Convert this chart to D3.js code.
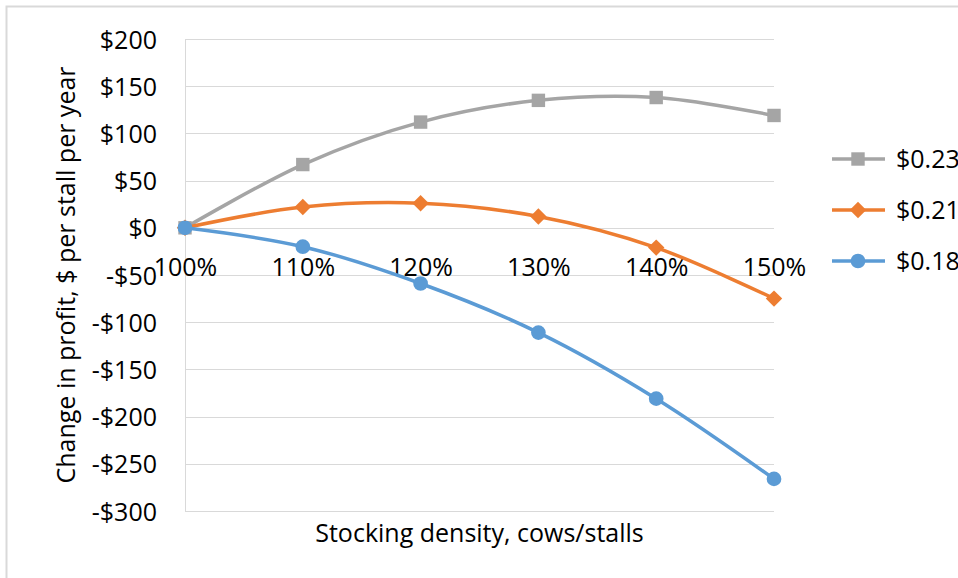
<!DOCTYPE html>
<html>
<head>
<meta charset="utf-8">
<script src="https://cdnjs.cloudflare.com/ajax/libs/d3/7.8.5/d3.min.js"></script>
<style>
body { margin: 0; background: #fff; overflow: hidden; }
svg text { font-family: "Open Sans", "Liberation Sans", sans-serif; fill: #000; }
</style>
</head>
<body>
<svg id="chart" width="958" height="578"></svg>
<script>
// data
var categories = ["100%", "110%", "120%", "130%", "140%", "150%"];
var seriesNames = ["$0.23", "$0.21", "$0.18"];
var gray23 = [0, 67, 112, 135, 138, 119];
var orange21 = [0, 22, 26, 12, -21, -75];
var blue18 = [0, -20, -59, -111, -181, -266];
var yTicks = [200, 150, 100, 50, 0, -50, -100, -150, -200, -250, -300];

// rotate = 45 turns the square into Excel's diamond
var series = [
  {name: seriesNames[0], values: gray23, color: "#A5A5A5", shape: d3.symbolSquare, size: 180, rotate: 0},
  {name: seriesNames[1], values: orange21, color: "#ED7D31", shape: d3.symbolSquare, size: 135, rotate: 45},
  {name: seriesNames[2], values: blue18, color: "#5B9BD5", shape: d3.symbolCircle, size: 170, rotate: 0}
];

var svg = d3.select("#chart");

// outer chart border
svg.append("rect")
  .attr("x", 6.5).attr("y", 6.5)
  .attr("width", 1000).attr("height", 1000)
  .attr("fill", "none")
  .attr("stroke", "#d9d9d9")
  .attr("stroke-width", 2);

var plotL = 185, plotR = 774, plotT = 39, plotB = 511;
var fontSize = "25px";

var x = d3.scalePoint()
  .domain(categories)
  .range([plotL, plotR]);

var y = d3.scaleLinear()
  .domain([-300, 200])
  .range([plotB, plotT]);

var fmt = function(v) { return v < 0 ? "-$" + (-v) : "$" + v; };

// gridlines
svg.append("g")
  .selectAll("line")
  .data(yTicks)
  .enter().append("line")
    .attr("x1", plotL).attr("x2", plotR)
    .attr("y1", function(d) { return Math.round(y(d)) + 0.5; })
    .attr("y2", function(d) { return Math.round(y(d)) + 0.5; })
    .attr("stroke", "#d9d9d9")
    .attr("stroke-width", 1);

// vertical axis line
svg.append("line")
  .attr("x1", plotL + 0.5).attr("x2", plotL + 0.5)
  .attr("y1", plotT).attr("y2", plotB)
  .attr("stroke", "#d9d9d9");

// y tick labels
var yAxis = d3.axisLeft(y).tickValues(yTicks).tickFormat(fmt).tickSize(0).tickPadding(28);
var gy = svg.append("g")
  .attr("transform", "translate(" + plotL + ",0)")
  .call(yAxis);
gy.select(".domain").remove();
gy.selectAll("text")
  .style("font-size", fontSize)
  .attr("dy", "0.36em");

// x tick labels sit under the zero line
var xAxis = d3.axisBottom(x).tickSize(0);
var gx = svg.append("g")
  .attr("transform", "translate(0," + y(0) + ")")
  .call(xAxis);
gx.select(".domain").remove();
gx.selectAll("text")
  .style("font-size", fontSize)
  .attr("y", 48)
  .attr("dy", null);

// lines
var line = d3.line()
  .x(function(d, i) { return x(categories[i]); })
  .y(function(d) { return y(d); })
  .curve(d3.curveCatmullRom.alpha(0.5));

series.forEach(function(s) {
  svg.append("path")
    .datum(s.values)
    .attr("d", line)
    .attr("fill", "none")
    .attr("stroke", s.color)
    .attr("stroke-width", 3.5)
    .attr("stroke-linecap", "round");

  svg.append("g")
    .selectAll("path")
    .data(s.values)
    .enter().append("path")
      .attr("transform", function(d, i) {
        return "translate(" + x(categories[i]) + "," + y(d) + ") rotate(" + s.rotate + ")";
      })
      .attr("d", d3.symbol().type(s.shape).size(s.size))
      .attr("fill", s.color);
});

// axis titles
svg.append("text")
  .attr("transform", "translate(75," + ((plotT + plotB) / 2) + ") rotate(-90)")
  .attr("text-anchor", "middle")
  .style("font-size", fontSize)
  .text("Change in profit, $ per stall per year");

svg.append("text")
  .attr("x", (plotL + plotR) / 2)
  .attr("y", 542)
  .attr("text-anchor", "middle")
  .style("font-size", fontSize)
  .text("Stocking density, cows/stalls");

// legend (cut by the right edge, as in the source image)
var legend = svg.append("g");
series.forEach(function(s, i) {
  var ly = 159 + i * 51;
  legend.append("line")
    .attr("x1", 832).attr("x2", 885)
    .attr("y1", ly).attr("y2", ly)
    .attr("stroke", s.color).attr("stroke-width", 3.5);
  legend.append("path")
    .attr("transform", "translate(858," + ly + ") rotate(" + s.rotate + ")")
    .attr("d", d3.symbol().type(s.shape).size(s.size))
    .attr("fill", s.color);
  legend.append("text")
    .attr("x", 896)
    .attr("y", ly)
    .attr("dy", "0.36em")
    .style("font-size", fontSize)
    .text(s.name);
});
</script>
</body>
</html>
